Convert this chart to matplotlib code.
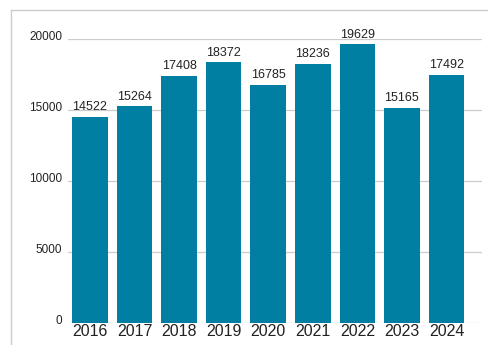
import matplotlib.pyplot as plt
from matplotlib.lines import Line2D
from matplotlib.transforms import ScaledTranslation

years = ["2016", "2017", "2018", "2019", "2020", "2021", "2022", "2023", "2024"]
values = [14522, 15264, 17408, 18372, 16785, 18236, 19629, 15165, 17492]
yticks = [0, 5000, 10000, 15000, 20000]

plt.rcParams["font.family"] = ["Liberation Sans", "DejaVu Sans"]

fig = plt.figure(figsize=(4.88, 3.45), dpi=100)
ax = fig.add_axes([0.1387, 0.0646, 0.988 - 0.1387, 0.887 - 0.0646])

x = range(len(years))
bars = ax.bar(x, values, width=0.8, color="#007fa3", zorder=2)
for b, v in zip(bars, values):
    ax.text(b.get_x() + b.get_width() / 2, v + 250, str(v),
            ha="center", va="bottom", fontsize=9, color="#222222")

ax.set_xlim(-0.5, 8.8)
ax.set_ylim(0, 20000)
ax.set_yticks(yticks)
ax.set_xticks(list(x))
ax.set_xticklabels(years, fontsize=11.5, color="#222222")
ax.set_yticklabels([str(t) for t in yticks], fontsize=8.5, color="#222222")
ax.tick_params(length=0)
ax.tick_params(axis="y", pad=4)
ax.tick_params(axis="x", pad=1)
# y labels sit a little above their grid lines
shift = ScaledTranslation(0, 3 / 100, fig.dpi_scale_trans)
for lbl in ax.get_yticklabels():
    lbl.set_transform(lbl.get_transform() + shift)
ax.grid(axis="y", color="#cccccc", linewidth=0.9, zorder=0)
for s in ax.spines.values():
    s.set_visible(False)

# outer frame
fig.add_artist(Line2D([11 / 488, 11 / 488], [0, 1 - 10 / 345], color="#cccccc", linewidth=1))
fig.add_artist(Line2D([11 / 488, 1], [1 - 10 / 345, 1 - 10 / 345], color="#cccccc", linewidth=1))

fig.savefig("out.png", dpi=100)
